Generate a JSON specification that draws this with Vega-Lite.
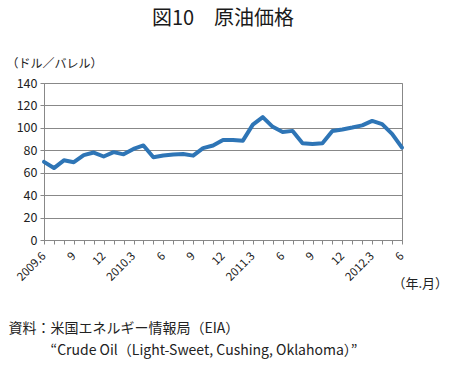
{
  "$schema": "https://vega.github.io/schema/vega-lite/v6.json",
  "width": 358,
  "height": 157,
  "autosize": {"type": "none"},
  "padding": {"left": 44, "top": 83, "right": 47, "bottom": 126},
  "background": "white",
  "config": {
    "font": "Noto Sans CJK JP",
    "view": {"stroke": "#888888", "strokeWidth": 1}
  },
  "title": {
    "text": "図10　原油価格",
    "fontSize": 20,
    "fontWeight": "normal",
    "color": "#1a1a1a",
    "anchor": "middle",
    "frame": "group",
    "offset": 28
  },
  "data": {
    "values": [
      {"month": "2009.6", "price": 69.64},
      {"month": "2009.7", "price": 64.15},
      {"month": "2009.8", "price": 71.05},
      {"month": "2009.9", "price": 69.41},
      {"month": "2009.10", "price": 75.72},
      {"month": "2009.11", "price": 77.99},
      {"month": "2009.12", "price": 74.47},
      {"month": "2010.1", "price": 78.33},
      {"month": "2010.2", "price": 76.39},
      {"month": "2010.3", "price": 81.2},
      {"month": "2010.4", "price": 84.29},
      {"month": "2010.5", "price": 73.74},
      {"month": "2010.6", "price": 75.34},
      {"month": "2010.7", "price": 76.32},
      {"month": "2010.8", "price": 76.6},
      {"month": "2010.9", "price": 75.24},
      {"month": "2010.10", "price": 81.89},
      {"month": "2010.11", "price": 84.25},
      {"month": "2010.12", "price": 89.15},
      {"month": "2011.1", "price": 89.17},
      {"month": "2011.2", "price": 88.58},
      {"month": "2011.3", "price": 102.86},
      {"month": "2011.4", "price": 109.53},
      {"month": "2011.5", "price": 100.9},
      {"month": "2011.6", "price": 96.26},
      {"month": "2011.7", "price": 97.3},
      {"month": "2011.8", "price": 86.33},
      {"month": "2011.9", "price": 85.52},
      {"month": "2011.10", "price": 86.32},
      {"month": "2011.11", "price": 97.16},
      {"month": "2011.12", "price": 98.56},
      {"month": "2012.1", "price": 100.27},
      {"month": "2012.2", "price": 102.2},
      {"month": "2012.3", "price": 106.16},
      {"month": "2012.4", "price": 103.32},
      {"month": "2012.5", "price": 94.66},
      {"month": "2012.6", "price": 82.3}
    ]
  },
  "layer": [
    {
      "mark": {"type": "line", "color": "#2e75b6", "strokeWidth": 4, "strokeJoin": "round", "strokeCap": "round"},
      "encoding": {
        "x": {
          "field": "month",
          "type": "ordinal",
          "sort": null,
          "scale": {"type": "point", "padding": 0},
          "axis": {
            "orient": "bottom",
            "domainColor": "#888888",
            "tickColor": "#888888",
            "tickSize": 4,
            "labelAngle": -45,
            "labelAlign": "right",
            "labelBaseline": "middle",
            "labelPadding": 10,
            "labelFontSize": 11.5,
            "labelColor": "#222222",
            "labelOverlap": false,
            "labelExpr": "(split(datum.label, '.')[1] % 3 != 0) ? '' : ((split(datum.label, '.')[1] == '3' || datum.label == '2009.6') ? datum.label : split(datum.label, '.')[1])",
            "title": "（年.月）",
            "titleFontSize": 13,
            "titleFontWeight": "normal",
            "titleColor": "#222222",
            "titleAlign": "left",
            "titleBaseline": "middle",
            "titleX": 348,
            "titleY": 43
          }
        },
        "y": {
          "field": "price",
          "type": "quantitative",
          "scale": {"domain": [0, 140]},
          "axis": {
            "values": [0, 20, 40, 60, 80, 100, 120, 140],
            "labelOverlap": false,
            "labelFlush": false,
            "grid": true,
            "gridColor": "#888888",
            "gridOpacity": 1,
            "domainColor": "#888888",
            "tickColor": "#888888",
            "tickSize": 4,
            "labelFontSize": 12.5,
            "labelColor": "#222222",
            "labelPadding": 3,
            "title": "（ドル／バレル）",
            "titleFontSize": 12,
            "titleFontWeight": "normal",
            "titleColor": "#222222",
            "titleAngle": 0,
            "titleAlign": "left",
            "titleBaseline": "middle",
            "titleX": -38,
            "titleY": -20
          }
        }
      }
    },
    {
      "mark": {"type": "line", "opacity": 0},
      "encoding": {
        "x": {
          "field": "month",
          "type": "ordinal",
          "sort": null,
          "axis": {
            "orient": "bottom",
            "labels": false,
            "ticks": false,
            "domain": false,
            "title": "資料：米国エネルギー情報局（EIA）",
            "titleFontSize": 14,
            "titleFontWeight": "normal",
            "titleColor": "#222222",
            "titleAlign": "left",
            "titleBaseline": "middle",
            "titleX": -36,
            "titleY": 88
          }
        }
      }
    },
    {
      "mark": {"type": "line", "opacity": 0},
      "encoding": {
        "x": {
          "field": "month",
          "type": "ordinal",
          "sort": null,
          "axis": {
            "orient": "bottom",
            "labels": false,
            "ticks": false,
            "domain": false,
            "title": "“Crude Oil（Light-Sweet, Cushing, Oklahoma）”",
            "titleFontSize": 14,
            "titleFontWeight": "normal",
            "titleColor": "#222222",
            "titleAlign": "left",
            "titleBaseline": "middle",
            "titleX": 6,
            "titleY": 110
          }
        }
      }
    }
  ],
  "resolve": {"axis": {"x": "independent"}}
}
